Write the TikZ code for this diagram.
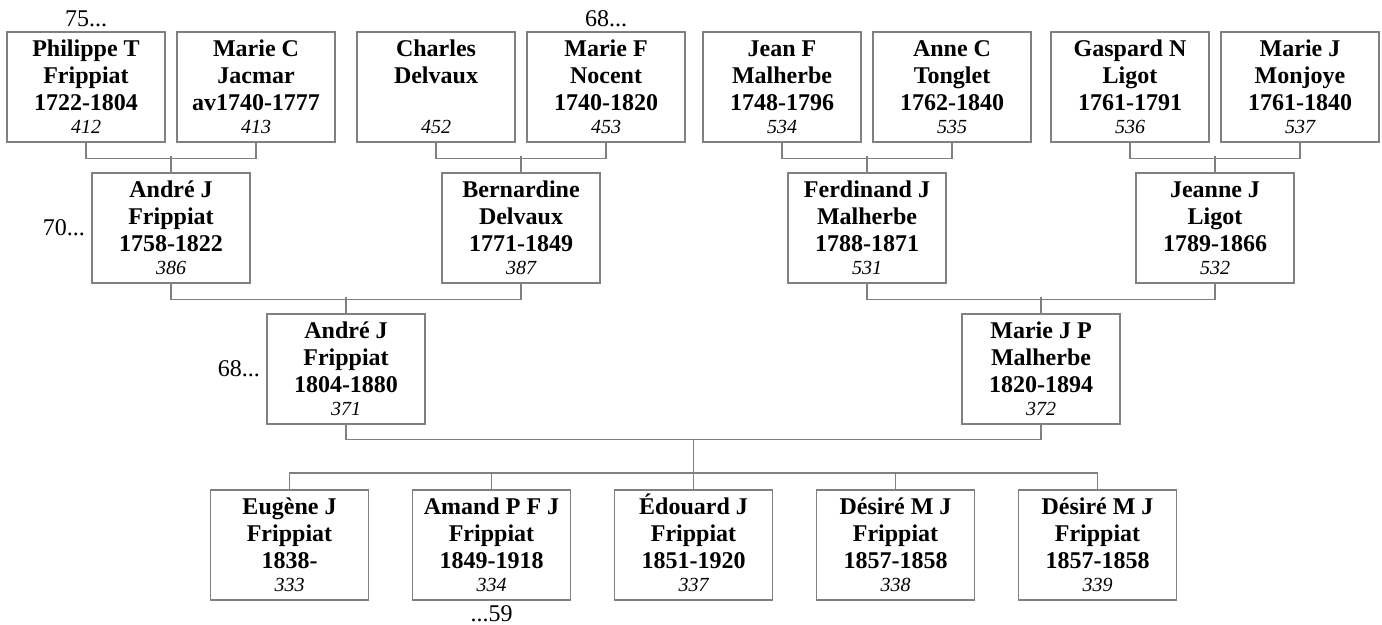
\documentclass[tikz,border=0pt]{standalone}
\usepackage{fontspec}
\setmainfont{Liberation Serif}
\usetikzlibrary{positioning}
\definecolor{linegray}{RGB}{128,128,128}
\newcommand{\idno}[1]{\\[-2pt]{\fontsize{10}{12}\selectfont\mdseries\itshape #1}}

\begin{document}
\begin{tikzpicture}[
    x=0.5pt, y=-0.5pt,
    person/.style={draw=linegray, line width=0.75pt, minimum width=79pt, minimum height=55pt,
        inner sep=1pt, align=center, font=\fontsize{12}{13.5}\selectfont\bfseries},
    link/.style={linegray, line width=0.75pt},
    more/.style={inner sep=1pt, font=\fontsize{12}{14}\selectfont}
]
    \useasboundingbox (0,0) rectangle (1382,625);

    % Great-grandparents
    \node[person] (p412) at (86,87) {Philippe T\\Frippiat\\1722-1804\idno{412}};
    \node[person] (p413) at (256,87) {Marie C\\Jacmar\\av1740-1777\idno{413}};
    \node[person] (p452) at (436,87) {Charles\\Delvaux\\\strut\idno{452}};
    \node[person] (p453) at (606,87) {Marie F\\Nocent\\1740-1820\idno{453}};
    \node[person] (p534) at (782,87) {Jean F\\Malherbe\\1748-1796\idno{534}};
    \node[person] (p535) at (952,87) {Anne C\\Tonglet\\1762-1840\idno{535}};
    \node[person] (p536) at (1130,87) {Gaspard N\\Ligot\\1761-1791\idno{536}};
    \node[person] (p537) at (1300,87) {Marie J\\Monjoye\\1761-1840\idno{537}};

    % Grandparents
    \node[person] (p386) at (171,228) {André J\\Frippiat\\1758-1822\idno{386}};
    \node[person] (p387) at (521,228) {Bernardine\\Delvaux\\1771-1849\idno{387}};
    \node[person] (p531) at (867,228) {Ferdinand J\\Malherbe\\1788-1871\idno{531}};
    \node[person] (p532) at (1215,228) {Jeanne J\\Ligot\\1789-1866\idno{532}};

    % Parents
    \node[person] (p371) at (346,369) {André J\\Frippiat\\1804-1880\idno{371}};
    \node[person] (p372) at (1041,369) {Marie J P\\Malherbe\\1820-1894\idno{372}};

    % Children
    \foreach \i/\id/\first/\yrs in {0/333/Eugène J/1838-, 1/334/Amand P F J/1849-1918,
        2/337/Édouard J/1851-1920, 3/338/Désiré M J/1857-1858, 4/339/Désiré M J/1857-1858} {
        \node[person] (c\id) at (289.5+\i*202,545) {\smash{\first}\rule{0pt}{8.5pt}\\Frippiat\\\yrs\idno{\id}};
    }

    % Continuation marks
    \node[more, above=1pt of p412] (m412) {75...};
    \node[more, above=1pt of p453] (m453) {68...};
    \node[more, left=2pt of p386] (m386) {70...};
    \node[more, left=2pt of p371] (m371) {68...};
    \node[more, below=1pt of c334] (m334) {...59};

    % Couples
    \draw[link] (p412.south) -- ++(0,16) -| (p413.south);
    \draw[link] (p452.south) -- ++(0,16) -| (p453.south);
    \draw[link] (p534.south) -- ++(0,16) -| (p535.south);
    \draw[link] (p536.south) -- ++(0,16) -| (p537.south);
    \draw[link] (p386.south) -- ++(0,16) -| (p387.south);
    \draw[link] (p531.south) -- ++(0,16) -| (p532.south);
    \draw[link] (p371.south) -- ++(0,15) coordinate (bar) -| (p372.south);

    % Descent
    \foreach \c in {p386, p387, p531, p532, p371, p372} {
        \draw[link] (\c.north) -- ++(0,-16);
    }
    \draw[link] (c333.north) -- ++(0,-16) -| (c339.north);
    \foreach \c in {c334, c338} {
        \draw[link] (\c.north) -- ++(0,-16);
    }
    \draw[link] (c337.north) -- (c337.north |- bar);
\end{tikzpicture}
\end{document}
